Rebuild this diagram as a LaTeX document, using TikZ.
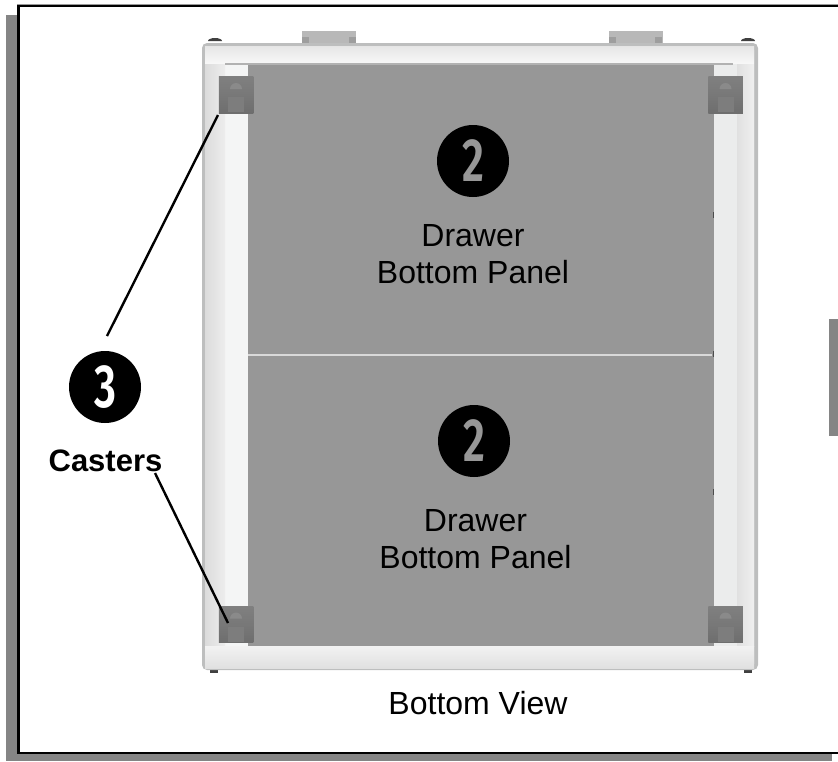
\documentclass[tikz,border=0pt]{standalone}
\usepackage{fontspec}
\setmainfont{Liberation Sans}
\newfontfamily\digitfont[FakeStretch=0.7]{Fira Sans SemiBold}
\usetikzlibrary{calc}
\definecolor{panelgray}{HTML}{979797}
\definecolor{shadowgray}{HTML}{858585}
\definecolor{railwhite}{HTML}{EBECEC}
\definecolor{railpale}{HTML}{F4F5F5}
\definecolor{edgegray}{HTML}{BDBEBE}
\tikzset{
  badge/.style={circle,fill=black,inner sep=0pt,minimum size=72pt,font=\digitfont\fontsize{61}{61}\selectfont},
  label/.style={align=center,inner sep=0pt,font=\fontsize{32}{37}\selectfont,text=black},
  leader/.style={draw=black,line width=2.4pt},
  knob/.style={fill=black!75,draw=none},
  tab/.style={fill=black!28,draw=none},
  casterbox/.style={draw=none,inner sep=0pt,minimum width=34.5pt,minimum height=36.5pt,top color=black!50,bottom color=black!57,middle color=black!53},
}
\newcommand{\casterdetail}[1]{%
  \fill[black!46] ($(#1)+(-6,-6)$) arc[start angle=180,end angle=0,radius=6pt] -- cycle;
  \fill[black!51] ($(#1)+(-8,2)$) rectangle ($(#1)+(8,17)$);
}
\begin{document}
\begin{tikzpicture}[x=1pt,y=-1pt]
\useasboundingbox (0,0) rectangle (838,761);
% page frame and shadow
\fill[shadowgray] (6,15) rectangle (18,761);
\fill[shadowgray] (6,754) rectangle (832,761);
\fill[shadowgray] (829,319) rectangle (838,436);
\fill[black!40] (17,4) rectangle (838,5);
\draw[black,line width=2.6pt] (838,6) -- (18.5,6) -- (18.5,753) -- (838,753);
% cabinet
\foreach \x in {302,609} \fill[tab] (\x,31) rectangle ++(54,12);
\foreach \x in {302,349,609,655} \fill[black!38] (\x,37) rectangle ++(7,6);
\fill[knob] (208,41) arc[start angle=180,end angle=0,x radius=7pt,y radius=3pt] -- cycle;
\fill[knob] (741,41) arc[start angle=180,end angle=0,x radius=7pt,y radius=3pt] -- cycle;
\fill[knob] (210,670) rectangle (218,673);
\fill[knob] (744,670) rectangle (752,673);
\fill[edgegray,rounded corners=5pt] (202,43) rectangle (758,670);
\fill[railwhite,rounded corners=4pt] (205,46) rectangle (754,668);
\fill[railpale] (225,64) rectangle (248,646);
\fill[railwhite] (714,64) rectangle (737,646);
\shade[left color=black!12,right color=black!6] (737,64) rectangle (754,646);
\shade[left color=black!14,right color=black!7] (205,64) rectangle (225,646);
\shade[top color=black!10,bottom color=black!3] (205,46) rectangle (754,63);
\shade[top color=black!5,bottom color=black!12] (205,646) rectangle (754,668);
\fill[black!30] (225,63) rectangle (733,65);
% drawer panels
\fill[panelgray] (248,65) rectangle (714,646);
\fill[black!15] (248,354) rectangle (712,356);
\foreach \y in {215,354,492} \fill[black!70] (712.5,\y-3) rectangle (714,\y+3);
% casters
\foreach \n/\x/\y in {a/236/95,b/725.5/95,c/236/624.5,d/725.5/624.5}{
  \node[casterbox] (caster\n) at (\x,\y) {};
  \casterdetail{caster\n}
}
% badges and labels
\node[badge,text=panelgray] (badgeA) at (473,161) {2};
\node[badge,text=panelgray] (badgeB) at (474,441) {2};
\node[badge,text=white] (badgeC) at (105,387) {3};
\node[label,anchor=north] (panelA) at (473,224) {Drawer\\Bottom Panel};
\node[label,anchor=north] (panelB) at (475.5,509) {Drawer\\Bottom Panel};
\node[label,font=\bfseries\fontsize{31}{37}\selectfont] (casters) at (105.5,461) {Casters};
\node[label] (viewlabel) at (478,703) {Bottom View};
% leaders
\coordinate (leadA) at (107,336);
\coordinate (leadB) at (155,473);
\coordinate (leadC) at (218,115);
\coordinate (leadD) at (228,623);
\draw[leader] (leadA) -- (leadC);
\draw[leader] (leadB) -- (leadD);
\end{tikzpicture}
\end{document}
